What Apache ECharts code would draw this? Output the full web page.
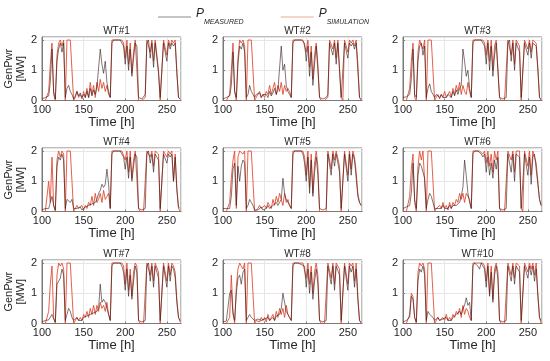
<!DOCTYPE html>
<html><head><meta charset="utf-8">
<script src="https://cdn.jsdelivr.net/npm/echarts@6/dist/echarts.min.js"></script>
<style>html,body{margin:0;padding:0;background:#fff}#c{width:550px;height:361px}</style>
</head><body><div id="c"></div>
<script>
// time axis [h], every 2 h
const hours = [100,102,104,106,108,110,112,114,116,118,120,122,124,126,128,130,132,134,136,138,
140,142,144,146,148,150,152,154,156,158,160,162,164,166,168,170,172,174,176,178,
180,182,184,186,188,190,192,194,196,198,200,202,204,206,208,210,212,214,216,218,
220,222,224,226,228,230,232,234,236,238,240,242,244,246,248,250,252,254,256,258,
260,262,264,266];
const turbines = ['WT#1','WT#2','WT#3','WT#4','WT#5','WT#6','WT#7','WT#8','WT#10'];
const xTicks = [100,150,200,250];
const yTicks = [0,1,2];

const meas1 = [0.05,0.08,0.1,0.1,0.15,0.6,1.7,0.3,0.05,1.3, 1.7,1.9,1.6,1.9,0.1,0.4,0.5,0.3,0.2,0.05,
0.15,0.3,0.15,0.25,0.1,0.2,0.1,0.3,0.1,0.4, 0.15,0.35,0.2,0.45,0.5,1.7,1.2,0.9,1.3,0.6,
0.3,0.1,1.9,2.0,2.0,2.0,2.0,2.0,1.95,1.8, 1.2,1.8,1.0,1.7,0.8,1.4,1.9,1.8,0.1,0.05,
0.05,0.1,0.2,1.9,2.0,1.4,1.9,1.1,1.9,1.9, 0.9,0.1,0.1,1.9,1.9,1.3,1.9,1.7,1.9,1.8, 1.9,0.9,0.1,0.05];
const sim1 = [0,0,0,0,0.3,1.2,1.9,0.2,0,1.5, 1.9,2.0,1.8,2.0,0,2.0,2.0,2.0,2.0,0,
0.1,0.3,0.1,0.2,0.05,0.3,0.1,0.4,0.1,0.6, 0.2,0.5,0.1,0.6,0.3,0.7,0.4,0.6,0.3,0.5,
0.2,0.1,2.0,2.0,2.0,2.0,2.0,2.0,2.0,1.9, 1.4,2.0,1.2,1.9,0.9,1.6,2.0,2.0,0,0,
0,0,0.1,2.0,2.0,1.6,2.0,1.3,2.0,2.0, 1.0,0,0,2.0,2.0,1.5,2.0,1.8,2.0,1.9, 2.0,1.0,0.1,0.05];

const meas2 = [0.05,0.1,0.1,0.12,0.15,0.5,1.6,0.3,0.1,1.2, 1.8,1.7,1.9,1.6,0.1,0.2,0.5,0.3,0.2,0.1,
0.2,0.15,0.25,0.1,0.2,0.15,0.2,0.1,0.3,0.15, 0.25,0.4,0.2,0.35,0.4,1.8,1.0,1.2,0.5,0.3,
0.2,0.1,1.9,2.0,2.0,2.0,2.0,2.0,1.95,1.9, 1.3,1.8,0.8,1.6,0.5,1.2,1.8,1.0,0.1,0.05,
0.05,0.05,0.1,0.2,1.9,1.9,1.5,1.9,1.2,1.9, 1.9,0.1,0.05,1.9,1.9,1.4,1.9,1.8,1.9,1.7, 1.9,1.0,0.1,0.05];
const sim2 = [0,0,0,0,0.2,1.0,1.9,0.3,0,1.4, 2.0,1.9,2.0,1.8,0,2.0,2.0,2.0,2.0,0,
0.1,0.2,0.3,0.1,0.2,0.1,0.3,0.2,0.5,0.2, 0.4,0.6,0.2,0.5,0.3,0.6,0.2,0.5,0.3,0.4,
0.3,0.1,2.0,2.0,2.0,2.0,2.0,2.0,2.0,2.0, 1.6,2.0,1.1,1.8,0.7,1.5,1.9,1.2,0.1,0,
0,0,0,0.1,2.0,2.0,1.7,2.0,1.4,2.0, 2.0,0.1,0,2.0,2.0,1.6,2.0,1.9,2.0,1.8, 2.0,1.2,0.1,0];

const meas3 = [0.1,0.1,0.12,0.1,0.2,0.7,1.7,0.2,0.1,1.3, 1.8,1.9,1.5,1.8,0.1,0.4,0.55,0.3,0.2,0.1,
0.2,0.15,0.1,0.2,0.1,0.15,0.1,0.2,0.25,0.1, 0.3,0.15,0.35,0.2,0.4,0.5,1.7,1.3,0.8,1.0,
0.4,0.1,1.9,2.0,2.0,2.0,2.0,2.0,1.95,1.8, 1.2,1.9,1.0,1.8,0.8,1.5,1.9,1.9,0.1,0.05,
0.05,0.1,0.1,1.9,2.0,1.3,1.9,1.0,1.9,1.9, 1.6,0.1,0.05,1.9,1.9,1.5,1.9,1.4,1.9,1.9, 1.8,1.0,0.1,0.05];
const sim3 = [0,0,0,0,0.4,1.3,1.9,0.1,0,1.6, 2.0,2.0,1.7,2.0,0,2.0,2.0,2.0,2.0,0,
0.1,0.2,0.05,0.2,0.1,0.3,0.1,0.2,0.3,0.1, 0.4,0.2,0.5,0.3,0.6,0.2,0.5,0.3,0.2,0.6,
0.3,0.1,2.0,2.0,2.0,2.0,2.0,2.0,2.0,1.9, 1.5,2.0,1.3,2.0,1.0,1.8,2.0,2.0,0.1,0,
0,0,0,2.0,2.0,1.5,2.0,1.2,2.0,2.0, 1.8,0,0,2.0,2.0,1.7,2.0,1.6,2.0,2.0, 1.9,1.1,0.1,0];

const meas4 = [0.05,0.08,0.1,0.1,0.1,0.15,0.5,0.2,0.05,1.5, 1.8,1.7,1.9,1.7,0.1,0.4,0.45,0.3,0.4,0.1,
0.15,0.1,0.1,0.15,0.05,0.1,0.15,0.1,0.2,0.15, 0.25,0.2,0.3,0.4,0.6,0.7,0.9,0.8,0.9,1.4,
0.9,0.1,1.9,2.0,2.0,2.0,2.0,2.0,1.9,1.8, 1.4,1.8,1.1,1.8,1.0,1.5,1.9,1.8,0.1,0.05,
0.05,0.1,0.1,1.9,2.0,1.6,1.9,1.3,1.9,1.9, 1.7,0.1,0.05,1.9,1.9,1.6,1.9,1.8,1.9,1.0, 1.8,0.7,0.15,0.1];
const sim4 = [0,0,0,0,1.0,0.3,1.8,0.2,0,1.7, 2.0,1.8,2.0,1.9,0,2.0,2.0,2.0,2.0,0,
0.1,0.2,0.1,0.1,0.2,0.05,0.2,0.1,0.3,0.2, 0.5,0.2,0.6,0.3,0.4,0.6,0.3,0.7,0.4,0.5,
0.6,0.1,2.0,2.0,2.0,2.0,2.0,2.0,2.0,2.0, 1.7,2.0,1.3,2.0,1.1,1.7,2.0,2.0,0.1,0,
0,0,0,2.0,2.0,1.8,2.0,1.5,2.0,2.0, 1.9,0,0,2.0,2.0,1.8,2.0,1.9,2.0,1.0, 1.9,0.8,0.1,0];

const meas5 = [0.1,0.12,0.1,0.08,0.1,0.5,1.4,1.6,0.2,1.5, 1.0,1.5,1.7,1.6,0.1,0.2,0.4,0.3,0.2,0.05,
0.1,0.05,0.1,0.15,0.05,0.1,0.1,0.2,0.1,0.1, 0.2,0.15,0.3,0.2,0.3,0.4,1.1,0.6,0.4,0.3,
0.2,0.1,1.9,2.0,2.0,2.0,2.0,2.0,1.9,1.6, 1.0,1.8,0.6,1.7,0.5,1.3,1.8,1.2,0.1,0.05,
0.05,0.05,0.1,1.9,1.9,1.2,1.9,1.5,1.9,1.9, 1.3,0.1,0.05,1.9,1.9,1.0,1.9,1.2,1.9,1.7, 1.1,0.5,0.3,0.2];
const sim5 = [0,0,0,0,0.3,1.1,1.7,2.0,0.1,1.8, 2.0,2.0,1.9,2.0,0,2.0,2.0,2.0,2.0,0,
0.05,0.1,0.2,0.1,0.05,0.2,0.1,0.3,0.2,0.1, 0.4,0.2,0.5,0.3,0.6,0.4,0.2,0.6,0.3,0.4,
0.2,0.1,2.0,2.0,2.0,2.0,2.0,2.0,2.0,1.8, 1.2,2.0,0.8,1.9,0.6,1.6,2.0,1.5,0,0,
0,0,0,2.0,2.0,1.4,2.0,1.7,2.0,2.0, 1.5,0,0,2.0,2.0,1.2,2.0,1.4,2.0,1.8, 1.3,0.6,0.3,0.2];

const meas6 = [0.1,0.15,0.15,0.1,0.2,0.6,1.6,0.4,0.1,1.2, 1.6,1.5,1.3,1.1,0.1,0.4,0.6,0.5,0.3,0.1,
0.15,0.1,0.15,0.1,0.2,0.1,0.15,0.1,0.2,0.1, 0.2,0.15,0.2,0.25,0.3,0.5,0.8,1.7,1.2,0.6,
0.3,0.1,1.9,2.0,2.0,2.0,2.0,1.9,1.8,1.9, 1.3,1.8,1.2,1.6,1.1,1.7,1.4,1.8,0.1,0.05,
0.05,0.1,0.1,1.9,1.9,1.3,1.9,1.0,1.9,1.9, 1.8,0.1,0.05,1.9,1.9,1.2,1.8,0.9,1.8,1.9, 1.4,0.9,0.4,0.2];
const sim6 = [0,0,0,0,0.5,1.4,1.9,0.3,0,1.5, 2.0,1.7,2.0,2.0,0,2.0,2.0,2.0,2.0,0,
0.1,0.05,0.2,0.1,0.3,0.1,0.2,0.05,0.3,0.1, 0.3,0.2,0.4,0.3,0.6,0.4,0.6,0.3,0.6,0.5,
0.4,0.1,2.0,2.0,2.0,2.0,2.0,2.0,1.9,2.0, 1.6,2.0,1.5,1.9,1.3,2.0,1.7,2.0,0.1,0,
0,0,0,2.0,2.0,1.7,2.0,1.3,2.0,2.0, 2.0,0.1,0,2.0,2.0,1.5,2.0,1.2,2.0,2.0, 1.6,1.0,0.4,0.2];

const meas7 = [0.05,0.1,0.1,0.1,0.12,0.15,0.3,0.15,0.05,1.3, 1.3,1.5,1.8,1.6,0.1,0.3,0.5,0.4,0.2,0.1,
0.15,0.2,0.1,0.15,0.1,0.2,0.15,0.25,0.2,0.3, 0.25,0.35,0.3,0.4,0.5,1.3,0.7,0.8,0.7,0.5,
0.3,0.1,1.9,2.0,2.0,2.0,2.0,2.0,1.9,1.7, 1.1,1.8,0.9,1.6,0.8,1.4,1.9,1.7,0.1,0.05,
0.05,0.05,0.1,1.9,2.0,1.4,1.9,1.2,1.9,1.9, 1.5,0.1,0.05,1.9,1.9,1.2,1.9,1.4,1.9,1.8, 1.5,0.7,0.2,0.1];
const sim7 = [0,0,0,0,0.4,1.3,1.9,0.2,0,1.6, 2.0,1.9,2.0,1.8,0,2.0,2.0,2.0,2.0,0,
0.1,0.2,0.1,0.2,0.1,0.3,0.2,0.4,0.2,0.5, 0.3,0.6,0.3,0.6,0.4,0.7,0.5,0.6,0.4,0.7,
0.3,0.1,2.0,2.0,2.0,2.0,2.0,2.0,2.0,1.9, 1.3,2.0,1.1,1.8,0.9,1.7,2.0,1.9,0.1,0,
0,0,0,2.0,2.0,1.6,2.0,1.4,2.0,2.0, 1.7,0,0,2.0,2.0,1.4,2.0,1.6,2.0,1.9, 1.7,0.8,0.2,0.05];

const meas8 = [0.05,0.05,0.08,0.1,1.0,1.1,0.3,0.1,1.0,1.5, 1.6,1.3,1.7,1.8,0.1,0.2,0.3,0.2,0.15,0.1,
0.1,0.15,0.1,0.1,0.05,0.15,0.1,0.2,0.1,0.15, 0.2,0.1,0.25,0.2,0.3,0.5,1.0,0.7,0.4,0.3,
0.2,0.1,1.9,2.0,2.0,2.0,2.0,1.95,1.9,1.9, 1.2,1.8,1.0,1.7,0.8,1.4,1.8,1.3,0.1,0.05,
0.05,0.05,0.1,1.9,1.9,1.3,1.9,1.1,1.9,1.9, 1.6,0.1,0.05,1.9,1.9,1.1,1.9,1.7,1.9,1.2, 1.8,0.8,0.1,0.05];
const sim8 = [0,0,0,0,0.2,1.6,0.4,0,1.2,1.8, 2.0,2.0,1.8,2.0,0,2.0,2.0,2.0,2.0,0,
0.1,0.1,0.05,0.2,0.1,0.2,0.05,0.3,0.1,0.2, 0.3,0.1,0.4,0.2,0.5,0.3,0.5,0.2,0.6,0.3,
0.2,0.1,2.0,2.0,2.0,2.0,2.0,2.0,2.0,2.0, 1.5,2.0,1.3,1.9,1.0,1.7,2.0,1.6,0.1,0,
0,0,0,2.0,2.0,1.5,2.0,1.3,2.0,2.0, 1.8,0,0,2.0,2.0,1.3,2.0,1.9,2.0,1.4, 2.0,0.9,0.1,0];

const meas10 = [0.05,0.1,0.1,0.12,0.2,0.9,0.8,0.2,0.05,1.4, 1.8,1.7,1.9,1.6,0.1,0.4,0.3,0.35,0.2,0.1,
0.15,0.2,0.1,0.1,0.15,0.1,0.2,0.1,0.15,0.1, 0.2,0.15,0.3,0.25,0.4,0.3,0.5,0.6,0.85,0.6,
0.7,0.1,1.9,2.0,2.0,1.9,1.8,2.0,1.9,1.8, 1.2,1.9,0.9,1.7,0.7,1.6,1.9,1.5,0.1,0.05,
0.05,0.05,0.1,1.9,1.9,1.4,1.9,1.3,1.9,1.9, 1.7,0.1,0.05,1.9,1.9,1.5,1.9,1.6,1.9,1.4, 1.8,0.9,0.2,0.1];
const sim10 = [0,0,0,0,0.3,1.0,0.9,0.2,0,1.7, 2.0,1.9,2.0,1.8,0,2.0,2.0,2.0,2.0,0,
0.1,0.2,0.1,0.05,0.2,0.1,0.3,0.1,0.2,0.1, 0.3,0.2,0.4,0.3,0.5,0.2,0.6,0.3,0.5,0.4,
0.2,0.1,2.0,2.0,2.0,2.0,2.0,2.0,2.0,1.9, 1.4,2.0,1.0,1.9,0.8,1.8,2.0,1.7,0.1,0,
0,0,0,2.0,2.0,1.6,2.0,1.5,2.0,2.0, 1.9,0,0,2.0,2.0,1.7,2.0,1.8,2.0,1.6, 2.0,1.0,0.2,0];

const measured = [meas1,meas2,meas3,meas4,meas5,meas6,meas7,meas8,meas10];
const simulated = [sim1,sim2,sim3,sim4,sim5,sim6,sim7,sim8,sim10];

const FONT = 'Liberation Sans, Arial, sans-serif';
const lefts = [42, 223, 403];
const tops = [37, 148, 260];
const W = 139, H = 63.5;
const frame = '#7a7a7a';
const cMeas = '#2e1a1a';
const cSim = '#e0452d';

const grids = [], xAxes = [], yAxes = [], series = [], titles = [];
turbines.forEach((name, i) => {
  const r = Math.floor(i / 3), c = i % 3;
  grids.push({left: lefts[c], top: tops[r], width: W, height: H, show: true,
    borderColor: frame, borderWidth: 1, backgroundColor: 'transparent', containLabel: false});
  xAxes.push({type: 'value', gridIndex: i, min: 100, max: 267, interval: 50,
    name: 'Time [h]', nameLocation: 'middle', nameGap: 15,
    nameTextStyle: {fontFamily: FONT, fontSize: 13, color: '#262626'},
    axisLine: {show: true, lineStyle: {color: frame}},
    axisTick: {show: true, inside: true, length: 2, lineStyle: {color: frame}},
    axisLabel: {fontFamily: FONT, fontSize: 11, color: '#262626', margin: 4, showMaxLabel: false,
      formatter: v => xTicks.indexOf(v) >= 0 ? String(v) : ''},
    splitLine: {show: true, lineStyle: {color: '#e6e6e6', width: 1}}});
  yAxes.push({type: 'value', gridIndex: i, min: 0, max: 2.1, interval: 1,
    name: c === 0 ? 'GenPwr\n[MW]' : '', nameLocation: 'middle', nameRotate: 90, nameGap: 15,
    nameTextStyle: {fontFamily: FONT, fontSize: 11, color: '#262626', lineHeight: 12},
    axisLine: {show: true, lineStyle: {color: frame}},
    axisTick: {show: true, inside: true, length: 2, lineStyle: {color: frame}},
    axisLabel: {fontFamily: FONT, fontSize: 11, color: '#262626', margin: 5, showMaxLabel: false,
      formatter: v => yTicks.indexOf(v) >= 0 ? String(v) : ''},
    splitLine: {show: true, lineStyle: {color: '#e6e6e6', width: 1}}});
  titles.push({text: name, left: lefts[c] + W / 2, top: tops[r] - 16, textAlign: 'center',
    textStyle: {fontFamily: FONT, fontSize: 10, fontWeight: 'normal', color: '#262626'}});
  series.push({name: 'P_SIMULATION', type: 'line', xAxisIndex: i, yAxisIndex: i,
    showSymbol: false, symbol: 'none', z: 2,
    itemStyle: {color: cSim},
    lineStyle: {color: cSim, width: 1, opacity: 0.85},
    data: hours.map((t, k) => [t, simulated[i][k]])});
  series.push({name: 'P_MEASURED', type: 'line', xAxisIndex: i, yAxisIndex: i,
    showSymbol: false, symbol: 'none', z: 3,
    itemStyle: {color: cMeas},
    lineStyle: {color: cMeas, width: 1, opacity: 0.6},
    data: hours.map((t, k) => [t, measured[i][k]])});
});

const chart = echarts.init(document.getElementById('c'), null, {renderer: 'canvas'});
chart.setOption({
  animation: false,
  backgroundColor: '#fff',
  title: titles,
  legend: {
    left: 153, top: 3, itemWidth: 33, itemHeight: 1, itemGap: 37, icon: 'rect',
    data: [
      {name: 'P_MEASURED', itemStyle: {color: '#8c8c8c'}},
      {name: 'P_SIMULATION', itemStyle: {color: '#eea98f'}}
    ],
    formatter: n => n === 'P_MEASURED' ? '{p|P}{s|MEASURED}' : '{p|P}{s|SIMULATION}',
    textStyle: {fontFamily: FONT, color: '#262626',
      rich: {
        p: {fontFamily: FONT, fontSize: 12, fontStyle: 'italic', color: '#262626', lineHeight: 18, verticalAlign: 'top'},
        s: {fontFamily: FONT, fontSize: 7, fontStyle: 'italic', color: '#262626', lineHeight: 18, verticalAlign: 'bottom', padding: [8, 0, 0, 0]}
      }}
  },
  grid: grids,
  xAxis: xAxes,
  yAxis: yAxes,
  series: series
});
</script></body></html>
